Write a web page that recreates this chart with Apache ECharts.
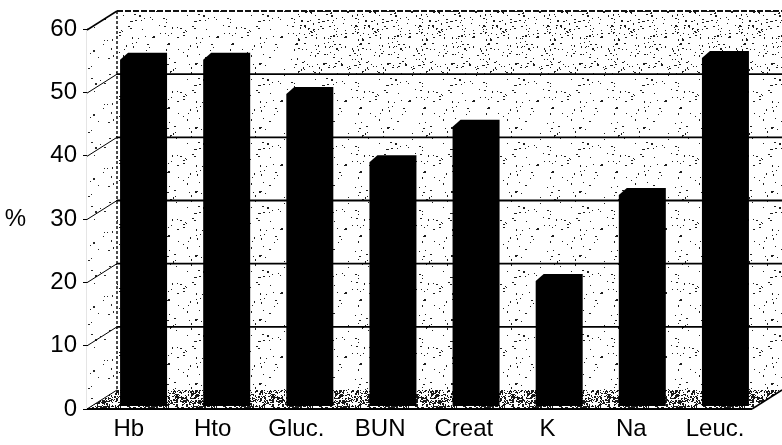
<!DOCTYPE html>
<html>
<head>
<meta charset="utf-8">
<script src="https://cdn.jsdelivr.net/npm/echarts@6/dist/echarts.min.js"></script>
<style>
  html, body { margin: 0; padding: 0; background: #fff; }
  #chart { width: 782px; height: 445px; }
</style>
</head>
<body>
<div id="chart"></div>
<script>
// Lab parameters (%)
const categories = ['Hb', 'Hto', 'Gluc.', 'BUN', 'Creat', 'K', 'Na', 'Leuc.'];
const percentValues = [54.4, 54.4, 49.0, 38.2, 43.8, 19.4, 33.0, 54.7];
const tickValues = [0, 10, 20, 30, 40, 50, 60];

// Oblique depth vector from the back wall to the front plane (pixels)
const DEPTH = [-30, 19];
const FONT = "'Liberation Sans', Arial, sans-serif";

// Deterministic stipple texture for the walls and the floor
function stipple(size, dots, bg, ink, seed) {
  const c = document.createElement('canvas');
  c.width = size; c.height = size;
  const g = c.getContext('2d');
  if (bg) { g.fillStyle = bg; g.fillRect(0, 0, size, size); }
  g.fillStyle = ink;
  let s = seed;
  const next = () => { s = (s * 1103515245 + 12345) % 2147483648; return s / 2147483648; };
  for (let k = 0; k < dots; k++) {
    const x = Math.floor(next() * size), y = Math.floor(next() * size);
    g.fillRect(x, y, next() < 0.35 ? 2 : 1, next() < 0.2 ? 2 : 1);
  }
  return { image: c, repeat: 'repeat' };
}
const wallFill = stipple(64, 70, '#ffffff', '#1e1e1e', 7);
const sideFill = stipple(64, 40, '#ffffff', '#2a2a2a', 5);
const topBandFill = stipple(64, 110, null, '#1e1e1e', 19);
const floorFill = stipple(48, 800, '#ffffff', '#1a1a1a', 11);

const chart = echarts.init(document.getElementById('chart'), null, { renderer: 'canvas' });

function renderSurfaces(params, api) {
  const cs = params.coordSys;
  const x0 = cs.x, y0 = cs.y, x1 = cs.x + cs.width, y1 = cs.y + cs.height;
  const y50 = api.coord([0, 50])[1];
  const [dx, dy] = DEPTH;
  return {
    type: 'group',
    children: [
      { type: 'rect', shape: { x: x0, y: y0, width: x1 - x0, height: y1 - y0 }, style: { fill: wallFill } },
      { type: 'rect', shape: { x: x0 + 180, y: y0, width: x1 - x0 - 180, height: y50 - y0 }, style: { fill: topBandFill } },
      { type: 'polygon', shape: { points: [[x0, y0], [x0, y1], [x0 + dx, y1 + dy], [x0 + dx, y0 + dy]] }, style: { fill: sideFill } },
      { type: 'polygon', shape: { points: [[x0, y1], [x1, y1], [x1 + dx, y1 + dy], [x0 + dx, y1 + dy]] }, style: { fill: floorFill } },
      // back wall left edge
      { type: 'line', shape: { x1: x0, y1: y0, x2: x0, y2: y1 }, style: { stroke: '#111', lineWidth: 1.5, lineDash: [3, 2] } },
      // floor front and right edges
      { type: 'line', shape: { x1: x0 + dx, y1: y1 + dy, x2: x1 + dx, y2: y1 + dy }, style: { stroke: '#000', lineWidth: 2 } },
      { type: 'line', shape: { x1: x1 + dx, y1: y1 + dy, x2: x1, y2: y1 }, style: { stroke: '#000', lineWidth: 1.5 } }
    ]
  };
}

function renderGridLines(params, api) {
  const cs = params.coordSys;
  const v = api.value(0);
  const y = api.coord([0, v])[1];
  const x0 = cs.x, x1 = cs.x + cs.width;
  const [dx, dy] = DEPTH;
  const children = [];
  if (v > 0) {
    children.push({
      type: 'line', shape: { x1: x0, y1: y, x2: x1, y2: y },
      style: v === 60 ? { stroke: '#111', lineWidth: 2, lineDash: [6, 2] } : { stroke: '#000', lineWidth: 1.8 }
    });
  }
  children.push({
    type: 'line', shape: { x1: x0, y1: y, x2: x0 + dx, y2: y + dy },
    style: { stroke: '#000', lineWidth: v === 60 ? 1.5 : 1 }
  });
  return { type: 'group', children };
}

function renderBar(params, api) {
  const i = api.value(0), v = api.value(1);
  const top = api.coord([i, v]);
  const base = api.coord([i, 0]);
  const cx = top[0];
  const yt = top[1] + 6.5;
  const xl = cx - 38.5, xr = cx + 8.5;
  const yb = base[1] + 16;
  return {
    type: 'polygon',
    shape: { points: [[xl, yb], [xl, yt + 7], [xl + 8, yt], [xr, yt], [xr, yb]] },
    style: { fill: '#000' }
  };
}

chart.setOption({
  animation: false,
  backgroundColor: '#ffffff',
  grid: [
    // back wall
    { left: 117, right: -3, top: 11, bottom: 55 },
    // front plane (axis labels)
    { left: 87, right: 25, top: 29, bottom: 36 }
  ],
  xAxis: [
    { gridIndex: 0, type: 'category', data: categories, show: false },
    {
      gridIndex: 1, type: 'category', data: categories,
      axisLine: { show: false }, axisTick: { show: false },
      axisLabel: { color: '#000', fontSize: 24, fontFamily: FONT, margin: 8 }
    }
  ],
  yAxis: [
    { gridIndex: 0, type: 'value', min: 0, max: 60, interval: 10, show: false, splitLine: { show: false } },
    {
      gridIndex: 1, type: 'value', min: 0, max: 60, interval: 10,
      name: '%', nameLocation: 'middle', nameRotate: 0, nameGap: 61,
      nameTextStyle: { color: '#000', fontSize: 24, fontFamily: FONT },
      axisLine: { show: true, lineStyle: { color: '#000', width: 1.2 } },
      axisTick: { show: true, length: 4, lineStyle: { color: '#000' } },
      axisLabel: { color: '#000', fontSize: 24, fontFamily: FONT, margin: 10 },
      splitLine: { show: false }
    }
  ],
  series: [
    {
      type: 'custom', xAxisIndex: 0, yAxisIndex: 0, z: 1, silent: true,
      renderItem: renderSurfaces, data: [[0, 0]]
    },
    {
      type: 'custom', xAxisIndex: 0, yAxisIndex: 0, z: 2, silent: true,
      renderItem: renderGridLines, data: tickValues.map(v => [v])
    },
    {
      type: 'custom', xAxisIndex: 0, yAxisIndex: 0, z: 3,
      renderItem: renderBar,
      encode: { x: 0, y: 1 },
      data: percentValues.map((v, i) => [i, v])
    }
  ]
});
</script>
</body>
</html>
